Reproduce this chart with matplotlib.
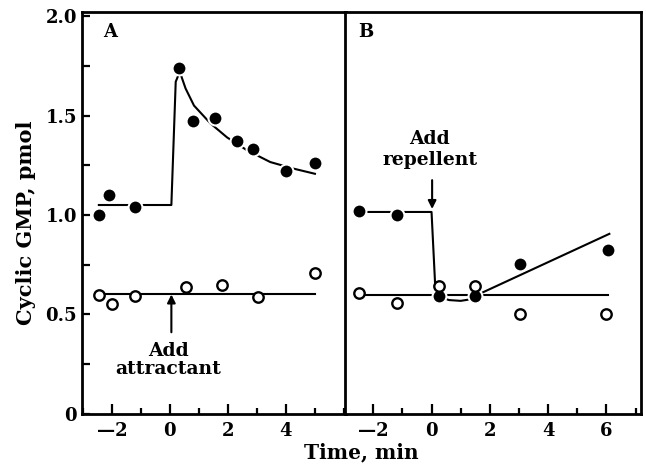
import matplotlib
matplotlib.use('Agg')
import matplotlib.pyplot as plt
from matplotlib.ticker import MultipleLocator

plt.rcParams['font.family'] = 'DejaVu Serif'
plt.rcParams['font.weight'] = 'bold'

# panel A (attractant)
a_filled_t = [-2.45, -2.1, -1.2, 0.3, 0.8, 1.55, 2.3, 2.85, 4.0, 5.0]
a_filled_y = [1.0, 1.10, 1.04, 1.74, 1.47, 1.49, 1.37, 1.33, 1.22, 1.26]
a_open_t = [-2.45, -2.0, -1.2, 0.55, 1.8, 3.05, 5.0]
a_open_y = [0.595, 0.55, 0.59, 0.64, 0.65, 0.585, 0.71]
# fitted curves as drawn
a_fit_t = [-2.45, 0.05, 0.2, 0.34, 0.54, 0.83, 1.4, 1.97, 2.66, 3.46, 4.26, 5.0]
a_fit_y = [1.05, 1.05, 1.67, 1.72, 1.636, 1.55, 1.46, 1.39, 1.325, 1.266, 1.233, 1.207]
a_base_t = [-2.45, 5.0]
a_base_y = [0.603, 0.603]

# panel B (repellent)
b_filled_t = [-2.5, -1.2, 0.25, 1.5, 3.05, 6.05]
b_filled_y = [1.02, 1.0, 0.59, 0.59, 0.755, 0.825]
b_open_t = [-2.5, -1.2, 0.25, 1.5, 3.05, 6.0]
b_open_y = [0.61, 0.555, 0.645, 0.645, 0.50, 0.50]
b_fit_t = [-2.5, 0.0, 0.12, 0.25, 0.6, 1.0, 1.3, 1.6, 6.1]
b_fit_y = [1.015, 1.015, 0.66, 0.59, 0.572, 0.568, 0.575, 0.60, 0.905]
b_base_t = [-2.5, 6.05]
b_base_y = [0.598, 0.598]

fig = plt.figure(figsize=(6.46, 4.66), dpi=100)
ax_a = fig.add_axes([0.127, 0.112, 0.409, 0.862])
ax_b = fig.add_axes([0.534, 0.112, 0.458, 0.862])


def style(ax, xlim, xmaj):
    ax.set_xlim(*xlim)
    ax.set_ylim(0, 2.02)
    for s in ax.spines.values():
        s.set_linewidth(2)
    ax.xaxis.set_minor_locator(MultipleLocator(1))
    ax.set_xticks(xmaj)
    ax.tick_params(axis='x', which='major', direction='in', length=7, width=1.6,
                   labelsize=13, pad=6)
    ax.tick_params(axis='x', which='minor', direction='in', length=4, width=1.6)
    ax.set_xticklabels(['\u2014' + str(-v) if v < 0 else str(v) for v in xmaj])


style(ax_a, (-3.03, 6.08), [-2, 0, 2, 4])
style(ax_b, (-2.97, 7.18), [-2, 0, 2, 4, 6])

ax_a.set_yticks([0, 0.5, 1.0, 1.5, 2.0])
ax_a.set_yticklabels(['0', '0.5', '1.0', '1.5', '2.0'])
ax_a.yaxis.set_minor_locator(MultipleLocator(0.25))
ax_a.tick_params(axis='y', which='both', direction='in', length=6, width=1.6,
                 labelsize=13)
ax_b.tick_params(axis='y', which='both', left=False, labelleft=False)

filled = dict(marker='o', ms=10, mfc='black', mec='white', mew=1.5, ls='none', zorder=3)
opened = dict(marker='o', ms=7.5, mfc='white', mec='black', mew=1.7, ls='none', zorder=3)

ax_a.plot(a_fit_t, a_fit_y, color='black', lw=1.5)
ax_a.plot(a_base_t, a_base_y, color='black', lw=1.5)
ax_a.plot(a_filled_t, a_filled_y, **filled)
ax_a.plot(a_open_t, a_open_y, **opened)

ax_b.plot(b_fit_t, b_fit_y, color='black', lw=1.5)
ax_b.plot(b_base_t, b_base_y, color='black', lw=1.5)
ax_b.plot(b_filled_t, b_filled_y, **filled)
ax_b.plot(b_open_t, b_open_y, **opened)

ax_a.text(-2.3, 1.92, 'A', fontsize=13, ha='left', va='center')
ax_b.text(-2.5, 1.92, 'B', fontsize=13, ha='left', va='center')

ax_a.annotate('', xy=(0.05, 0.60), xytext=(0.05, 0.41),
              arrowprops=dict(arrowstyle='-|>', color='black', lw=1.5,
                              mutation_scale=12, shrinkA=0, shrinkB=0))
ax_a.text(-0.05, 0.317, 'Add', fontsize=13.5, ha='center', va='center')
ax_a.text(-0.05, 0.226, 'attractant', fontsize=13.5, ha='center', va='center')

ax_b.annotate('', xy=(0.02, 1.03), xytext=(0.02, 1.175),
              arrowprops=dict(arrowstyle='-|>', color='black', lw=1.5,
                              mutation_scale=12, shrinkA=0, shrinkB=0))
ax_b.text(-0.06, 1.384, 'Add', fontsize=13.5, ha='center', va='center')
ax_b.text(-0.06, 1.278, 'repellent', fontsize=13.5, ha='center', va='center')

fig.text(0.041, 0.521, 'Cyclic GMP, pmol', rotation=90, fontsize=15,
         ha='center', va='center')
fig.text(0.56, 0.03, 'Time, min', fontsize=14.5, ha='center', va='center')

fig.savefig('out.png', dpi=100)
